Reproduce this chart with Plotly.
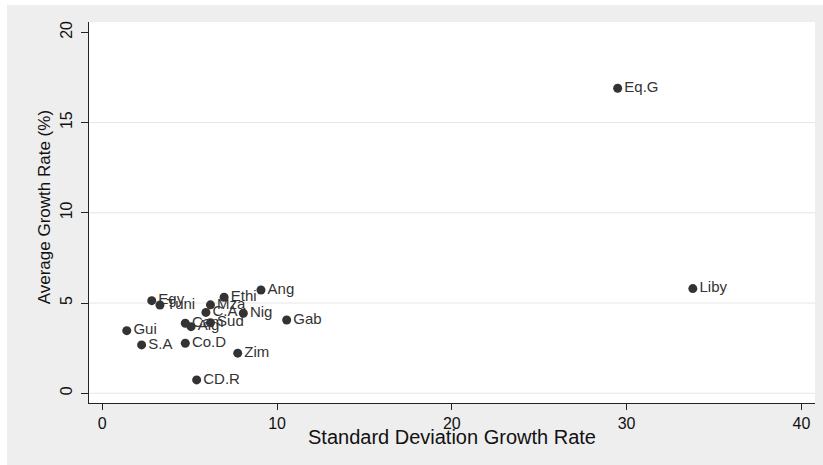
import plotly.graph_objects as go

# Data
countries = ["Alg", "Ang", "Cam", "C.A", "CD.R", "Co.D", "Egy", "Eq.G", "Ethi",
             "Gab", "Gui", "Liby", "Mza", "Nig", "S.A", "Sud", "Tuni", "Zim"]
sd_growth = [5.08, 9.08, 4.75, 5.93, 5.40, 4.75, 2.83, 29.49, 6.97,
             10.55, 1.40, 33.79, 6.19, 8.07, 2.25, 6.19, 3.30, 7.75]
avg_growth = [3.69, 5.72, 3.88, 4.48, 0.74, 2.77, 5.13, 16.90, 5.32,
              4.06, 3.47, 5.80, 4.90, 4.43, 2.68, 3.91, 4.89, 2.22]

x_ticks = [0, 10, 20, 30, 40]
y_ticks = [0, 5, 10, 15, 20]
y_grid = [0, 5, 10, 15]

x_title = "Standard Deviation Growth Rate"
y_title = "Average Growth Rate (%)"

FONT = "Liberation Sans, Arial, sans-serif"
MARK = "#333333"
BG = "#eeeeee"

fig = go.Figure()
# one trace per point so later markers overlap earlier labels (as in the original)
for name, xv, yv in zip(countries, sd_growth, avg_growth):
    fig.add_trace(go.Scatter(
        x=[xv], y=[yv], text=[name], mode="markers+text",
        textposition="middle right",
        marker=dict(size=9, color=MARK),
        textfont=dict(family=FONT, size=15, color=MARK),
        showlegend=False, cliponaxis=False,
    ))

shapes = []
for g in y_grid:
    shapes.append(dict(type="line", xref="paper", yref="y", x0=0, x1=1, y0=g, y1=g,
                       line=dict(color="#e6e6e6", width=1), layer="below"))

# the page body is given a 5px top / 7px left margin, so the grey graph
# region starts where it does in the original
fig.update_layout(
    width=816, height=460,
    margin=dict(l=82, r=8, t=17, b=62),
    paper_bgcolor=BG, plot_bgcolor="white",
    font=dict(family=FONT, color="#111111"),
    shapes=shapes,
    xaxis=dict(range=[-0.76, 40.78], tickvals=x_ticks, showgrid=False, zeroline=False,
               showline=True, linecolor="#222222", linewidth=1,
               ticks="outside", ticklen=6, tickcolor="#222222",
               tickfont=dict(size=16, family=FONT, color="#111111")),
    yaxis=dict(range=[-0.54, 20.57], tickvals=y_ticks, showgrid=False, zeroline=False,
               showline=True, linecolor="#222222", linewidth=1,
               ticks="outside", ticklen=7, tickcolor="#222222", tickangle=-90,
               ticklabelstandoff=3,
               tickfont=dict(size=16, family=FONT, color="#111111")),
    annotations=[
        dict(text=x_title, xref="paper", yref="paper", x=0.5, y=-0.0892,
             xanchor="center", yanchor="middle", showarrow=False,
             font=dict(size=20, family=FONT, color="#111111")),
        dict(text=y_title, xref="paper", yref="paper", x=-0.0613, y=0.515,
             xanchor="center", yanchor="middle", textangle=-90, showarrow=False,
             font=dict(size=17, family=FONT, color="#111111")),
    ],
)

fig.write_html("out.html",
               post_script="document.body.style.margin='5px 0 0 7px';"
                           "document.body.style.overflow='hidden';")
